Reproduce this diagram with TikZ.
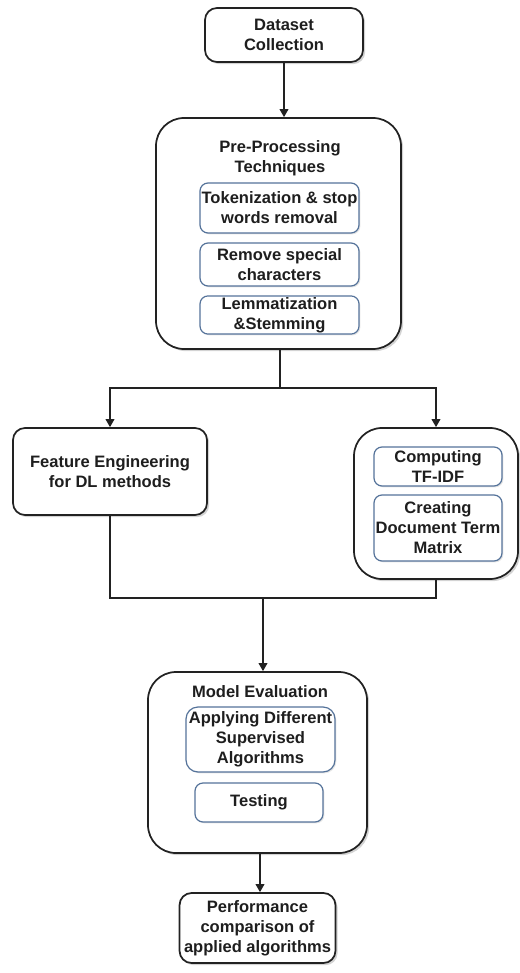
\documentclass[tikz,border=0pt]{standalone}
\usepackage{fontspec}
\setmainfont{Liberation Sans}
\usetikzlibrary{arrows.meta,shadows}

\definecolor{boxline}{HTML}{222222}
\definecolor{innerline}{HTML}{55739A}
\definecolor{txt}{HTML}{1E1E1E}

\tikzset{
  outerbox/.style={draw=boxline, line width=1.3pt, fill=white, rounded corners=9pt,
    drop shadow={shadow xshift=1.6pt, shadow yshift=-1.6pt, opacity=0.35}},
  bigbox/.style={outerbox, rounded corners=21pt},
  innerbox/.style={draw=innerline, line width=0.9pt, fill=white, rounded corners=6pt,
    drop shadow={shadow xshift=1pt, shadow yshift=-1pt, opacity=0.2}},
  lbl/.style={text=txt, font=\fontsize{12.4}{15}\selectfont\bfseries, align=center},
  flow/.style={line width=1.1pt, draw=boxline},
  arr/.style={flow, -{Triangle[width=6.5pt,length=6pt]}}
}

\begin{document}
\begin{tikzpicture}[x=0.75pt, y=-0.75pt]
    \useasboundingbox (0,0) rectangle (519,973);
      % top
      \node[outerbox, minimum width=158*0.75pt, minimum height=54*0.75pt] (data) at (284,35) {};
      \node[lbl] (datatxt) at (284,35) {Dataset\\Collection};
      % pre-processing
      \node[bigbox, minimum width=245*0.75pt, minimum height=231*0.75pt] (pre) at (278.5,233.5) {};
      \node[lbl] (pretitle) at (280,158) {Pre-Processing\\Techniques};
      \node[innerbox, lbl, minimum width=159*0.75pt, minimum height=50*0.75pt, inner sep=1pt] (tok) at (279.5,208) {Tokenization \& stop\\words removal};
      \node[innerbox, lbl, minimum width=159*0.75pt, minimum height=43*0.75pt, inner sep=1pt] (rem) at (279.5,264.5) {Remove special\\characters};
      \node[innerbox, lbl, minimum width=159*0.75pt, minimum height=38*0.75pt, inner sep=1pt] (lem) at (279.5,315) {Lemmatization\\\&Stemming};
      % two branches
      \node[outerbox, lbl, minimum width=194*0.75pt, minimum height=87*0.75pt] (feat) at (110,471.5) {Feature Engineering\\for DL methods};
      \node[bigbox, minimum width=164*0.75pt, minimum height=151*0.75pt] (tf) at (436,503.5) {};
      \node[innerbox, lbl, minimum width=128*0.75pt, minimum height=39*0.75pt, inner sep=1pt] (comp) at (438,466.5) {Computing\\TF-IDF};
      \node[innerbox, lbl, minimum width=128*0.75pt, minimum height=66*0.75pt, inner sep=1pt] (dtm) at (438,528) {Creating\\Document Term\\Matrix};
      % evaluation
      \node[bigbox, minimum width=219*0.75pt, minimum height=181*0.75pt] (eval) at (257.5,762.5) {};
      \node[lbl] (evaltitle) at (260,692) {Model Evaluation};
      \node[innerbox, lbl, rounded corners=9pt, minimum width=149*0.75pt, minimum height=65*0.75pt, inner sep=1pt] (appl) at (260.5,739.5) {Applying Different\\Supervised\\Algorithms};
      \node[innerbox, lbl, minimum width=128*0.75pt, minimum height=39*0.75pt, inner sep=1pt] (test) at (259,802.5) {Testing};
      \node[outerbox, lbl, minimum width=155*0.75pt, minimum height=70*0.75pt] (perf) at (257.5,928) {Performance\\comparison of\\applied algorithms};

      % connectors
      \coordinate (split) at (280,388);
      \coordinate (merge) at (263,598);
      \draw[arr] (data.south) -- (data.south |- pre.north);
      \draw[flow] (pre.south -| split) -- (split);
      \draw[arr] (split) -| (feat.north);
      \draw[arr] (split) -| (tf.north);
      \draw[flow] (feat.south) |- (merge);
      \draw[flow] (tf.south) |- (merge);
      \draw[arr] (merge) -- (merge |- eval.north);
      \draw[arr] (eval.south -| 260,0) -- (perf.north -| 260,0);
    \end{tikzpicture}
\end{document}
